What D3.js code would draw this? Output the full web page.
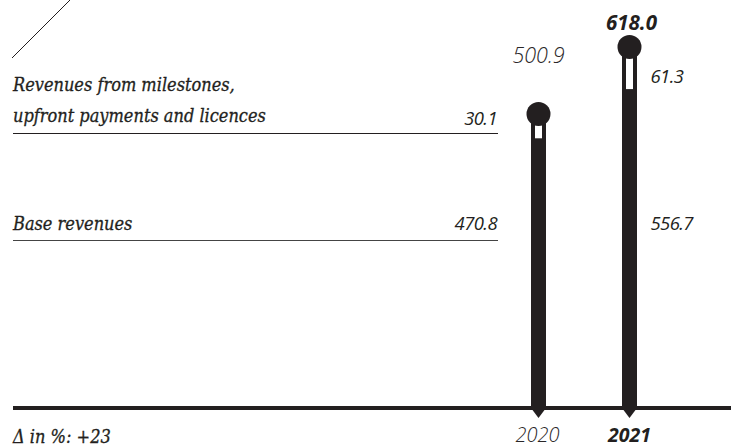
<!DOCTYPE html>
<html>
<head>
<meta charset="utf-8">
<script src="https://cdn.jsdelivr.net/npm/d3@7"></script>
<style>
  html, body { margin: 0; padding: 0; background: #ffffff; }
  svg { display: block; }
  .serif { font-family: "DejaVu Serif Condensed", "DejaVu Serif", serif; font-stretch: condensed; font-style: italic; stroke: #231f20; stroke-width: 0.3px; }
  .sans { font-family: "Open Sans", "Noto Sans", sans-serif; font-style: italic; }
</style>
</head>
<body>
<svg id="chart" width="731" height="444"></svg>
<script>
// Revenue data (EUR m)
const years = ["2020", "2021"];
const baseRevenues = [470.8, 556.7];
const milestoneRevenues = [30.1, 61.3];
const totalRevenues = [500.9, 618.0];
const seriesLabels = ["Revenues from milestones,", "upfront payments and licences", "Base revenues"];
const deltaText = "Δ in %: +23";

const ink = "#231f20";
const W = 731, H = 444;
const baselineY = 408;

const svg = d3.select("#chart");

const x = d3.scalePoint().domain(years).range([538.5, 629.5]);
const y = d3.scaleLinear().domain([0, 700]).range([baselineY, 7]);

const barW = 15, inner = 7, r = 12, capShift = 7;

// decorative diagonal stroke
svg.append("line")
  .attr("x1", 12).attr("y1", 58).attr("x2", 70).attr("y2", 0)
  .attr("stroke", ink).attr("stroke-width", 1);

// row labels with their guide rules
const serifSize = 18;
svg.append("text").attr("class", "serif").attr("x", 13).attr("y", 91)
  .attr("font-size", serifSize).attr("fill", ink).text(seriesLabels[0]);
svg.append("text").attr("class", "serif").attr("x", 13).attr("y", 122)
  .attr("font-size", serifSize).attr("fill", ink).text(seriesLabels[1]);
svg.append("line").attr("x1", 13).attr("x2", 498).attr("y1", 133.5).attr("y2", 133.5)
  .attr("stroke", ink).attr("stroke-width", 1.2);

svg.append("text").attr("class", "serif").attr("x", 13).attr("y", 230)
  .attr("font-size", serifSize).attr("fill", ink).text(seriesLabels[2]);
svg.append("line").attr("x1", 13).attr("x2", 498).attr("y1", 240.5).attr("y2", 240.5)
  .attr("stroke", "#444").attr("stroke-width", 1.2);

// baseline
svg.append("line").attr("x1", 13).attr("x2", W).attr("y1", baselineY).attr("y2", baselineY)
  .attr("stroke", ink).attr("stroke-width", 4);

// bars
const g = svg.selectAll("g.bar").data(years).join("g").attr("class", "bar");

g.append("rect")
  .attr("x", d => x(d) - barW / 2)
  .attr("width", barW)
  .attr("y", (d, i) => y(totalRevenues[i]))
  .attr("height", (d, i) => baselineY - y(totalRevenues[i]))
  .attr("fill", ink);

g.append("path")
  .attr("d", d => `M${x(d) - barW / 2},${baselineY} L${x(d) + barW / 2},${baselineY} L${x(d)},${baselineY + 10} Z`)
  .attr("fill", ink);

// milestone segment shown hollow
g.append("rect")
  .attr("x", d => x(d) - inner / 2)
  .attr("width", inner)
  .attr("y", (d, i) => y(baseRevenues[i] + milestoneRevenues[i]) + capShift - 3)
  .attr("height", (d, i) => y(baseRevenues[i]) - (y(baseRevenues[i] + milestoneRevenues[i]) + capShift - 3))
  .attr("fill", "#ffffff");

g.append("circle")
  .attr("cx", d => x(d))
  .attr("cy", (d, i) => y(totalRevenues[i]) - capShift)
  .attr("r", r)
  .attr("fill", ink);

// value labels
const fmt = d3.format(".1f");
const lblSize = 18.5;
// 2020 values sit at the end of the guide rules
svg.append("text").attr("class", "sans").attr("x", 497).attr("y", 125)
  .attr("text-anchor", "end").attr("font-size", lblSize).attr("font-weight", 500).attr("fill", ink)
  .attr("letter-spacing", -0.6).text(fmt(milestoneRevenues[0]));
svg.append("text").attr("class", "sans").attr("x", 497).attr("y", 230)
  .attr("text-anchor", "end").attr("font-size", lblSize).attr("font-weight", 500).attr("fill", ink)
  .attr("letter-spacing", -0.6).text(fmt(baseRevenues[0]));
// 2021 values to the right of the bar
svg.append("text").attr("class", "sans").attr("x", x("2021") + 21).attr("y", 83)
  .attr("font-size", lblSize).attr("font-weight", 500).attr("fill", ink)
  .attr("letter-spacing", -0.6).text(fmt(milestoneRevenues[1]));
svg.append("text").attr("class", "sans").attr("x", x("2021") + 21).attr("y", 230)
  .attr("font-size", lblSize).attr("font-weight", 500).attr("fill", ink)
  .attr("letter-spacing", -0.6).text(fmt(baseRevenues[1]));

// totals
svg.append("text").attr("class", "sans").attr("x", x("2020")).attr("y", 63)
  .attr("text-anchor", "middle").attr("font-size", 21.5).attr("font-weight", 300)
  .attr("fill", "#2a2728").text(fmt(totalRevenues[0]));
svg.append("text").attr("class", "sans").attr("x", x("2021") + 2).attr("y", 29.5)
  .attr("text-anchor", "middle").attr("font-size", 20.5).attr("font-weight", 700)
  .attr("fill", ink).text(fmt(totalRevenues[1]));

// year axis labels
svg.append("text").attr("class", "sans").attr("x", x("2020") - 1).attr("y", 442)
  .attr("text-anchor", "middle").attr("font-size", 20).attr("font-weight", 300)
  .attr("fill", "#2a2728").text(years[0]);
svg.append("text").attr("class", "sans").attr("x", x("2021")).attr("y", 442)
  .attr("text-anchor", "middle").attr("font-size", 19.5).attr("font-weight", 700)
  .attr("fill", ink).text(years[1]);

// change note
svg.append("text").attr("class", "serif").attr("x", 13).attr("y", 443)
  .attr("font-size", serifSize).attr("fill", ink).text(deltaText);
</script>
</body>
</html>
